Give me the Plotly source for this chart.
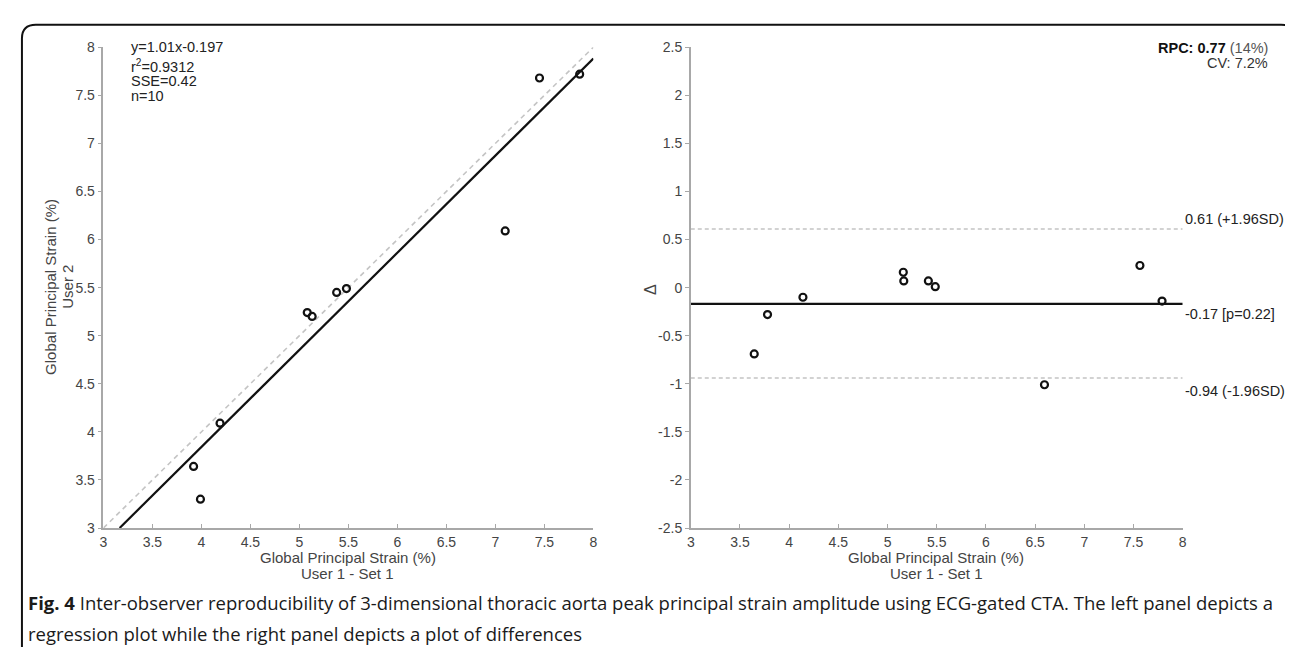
import plotly.graph_objects as go

# ---- data ----
user1 = [3.92, 3.99, 4.19, 5.08, 5.13, 5.38, 5.48, 7.10, 7.45, 7.86]
user2 = [3.64, 3.30, 4.09, 5.24, 5.20, 5.45, 5.49, 6.09, 7.68, 7.72]
slope = 1.01
intercept = -0.197
mean_diff = -0.17
upper_loa = 0.61
lower_loa = -0.94

left_ticks = [3, 3.5, 4, 4.5, 5, 5.5, 6, 6.5, 7, 7.5, 8]
left_ticktext = ["3", "3.5", "4", "4.5", "5", "5.5", "6", "6.5", "7", "7.5", "8"]
right_yticks = [-2.5, -2, -1.5, -1, -0.5, 0, 0.5, 1, 1.5, 2, 2.5]
right_yticktext = ["-2.5", "-2", "-1.5", "-1", "-0.5", "0", "0.5", "1", "1.5", "2", "2.5"]

stats_lines = ["y=1.01x-0.197", "r<sup>2</sup>=0.9312", "SSE=0.42", "n=10"]
loa_labels = ["0.61 (+1.96SD)", "-0.17 [p=0.22]", "-0.94 (-1.96SD)"]

means = [(a + b) / 2 for a, b in zip(user1, user2)]
diffs = [b - a for a, b in zip(user1, user2)]

W, H = 1293, 647
def px(x):
    return x / W
def py(y):
    return 1 - y / H

FONT = "Liberation Sans, Arial, Helvetica, sans-serif"
TICKC = "#444444"
AXC = "#a8a8a8"

fig = go.Figure()

# left panel
xline = [(3 - intercept) / slope, 8]
fig.add_trace(go.Scatter(x=[3, 8], y=[3, 8], mode="lines",
                         line=dict(color="#c4c4c4", width=1.6, dash="5px,4px"),
                         xaxis="x", yaxis="y", showlegend=False, hoverinfo="skip"))
fig.add_trace(go.Scatter(x=xline, y=[slope * v + intercept for v in xline], mode="lines",
                         line=dict(color="#111111", width=2.2),
                         xaxis="x", yaxis="y", showlegend=False, hoverinfo="skip"))
fig.add_trace(go.Scatter(x=user1, y=user2, mode="markers",
                         marker=dict(symbol="circle-open", size=7, color="#111111",
                                     line=dict(width=2.2, color="#111111")),
                         xaxis="x", yaxis="y", showlegend=False))

# right panel
for v in [upper_loa, lower_loa]:
    fig.add_trace(go.Scatter(x=[3, 8], y=[v, v], mode="lines",
                             line=dict(color="#c4c4c4", width=1.6, dash="4px,3px"),
                             xaxis="x2", yaxis="y2", showlegend=False, hoverinfo="skip"))
fig.add_trace(go.Scatter(x=[3, 8], y=[mean_diff, mean_diff], mode="lines",
                         line=dict(color="#111111", width=2.2),
                         xaxis="x2", yaxis="y2", showlegend=False, hoverinfo="skip"))
fig.add_trace(go.Scatter(x=means, y=diffs, mode="markers",
                         marker=dict(symbol="circle-open", size=7, color="#111111",
                                     line=dict(width=2.2, color="#111111")),
                         xaxis="x2", yaxis="y2", showlegend=False))

axis_common = dict(showgrid=False, zeroline=False, showline=True, linecolor=AXC,
                   linewidth=1.5, tickcolor=AXC, tickwidth=1.2, ticklen=4,
                   tickfont=dict(family=FONT, size=14, color=TICKC), mirror=False)

ydom = [py(525), py(32)]
fig.update_layout(
    width=W, height=H, margin=dict(l=0, r=0, t=0, b=0),
    paper_bgcolor="white", plot_bgcolor="white", showlegend=False,
    xaxis=dict(domain=[px(92), px(585)], range=[3, 8], tickvals=left_ticks,
               ticktext=left_ticktext, ticks="inside", anchor="y", **axis_common),
    yaxis=dict(domain=ydom, range=[3, 8], tickvals=left_ticks,
               ticktext=left_ticktext, ticks="outside", anchor="x", **axis_common),
    xaxis2=dict(domain=[px(683), px(1178)], range=[3, 8], tickvals=left_ticks,
                ticktext=left_ticktext, ticks="inside", anchor="y2", **axis_common),
    yaxis2=dict(domain=ydom, range=[-2.5, 2.5], tickvals=right_yticks,
                ticktext=right_yticktext, ticks="outside", anchor="x2", **axis_common),
)

ann = []
def text(x, y, s, size=14.5, color=TICKC, xanchor="center", yanchor="middle", angle=0, fam=FONT):
    ann.append(dict(x=px(x), y=py(y), xref="paper", yref="paper", text=s, showarrow=False,
                    xanchor=xanchor, yanchor=yanchor, textangle=angle,
                    font=dict(family=fam, size=size, color=color)))

# axis titles
text(338, 555, "Global Principal Strain (%)", size=15)
text(338, 572, "User 1 - Set 1", size=15)
text(930, 555, "Global Principal Strain (%)", size=15)
text(930, 572, "User 1 - Set 1", size=15)
text(38, 278, "Global Principal Strain (%)", angle=-90, size=15)
text(55, 278, "User 2", angle=-90, size=15)
text(642, 281, "Δ", angle=-90, size=16)

# stats box left
ys = [32, 51, 67, 82]
for s, yy in zip(stats_lines, ys):
    text(118, yy, s, color="#222222", xanchor="left")

# RPC
text(1266, 33, "<b>RPC: 0.77</b> <span style='color:#555555'>(14%)</span>", color="#111111", xanchor="right")
text(1266, 48, "CV: 7.2%", color="#333333", xanchor="right")

# LoA labels
for s, yy in zip(loa_labels, [208, 306, 385]):
    text(1178, yy, s, color="#222222", xanchor="left")

# caption
CAP = "Open Sans, Noto Sans, sans-serif"
text(14, 601, "<b>Fig. 4</b> Inter-observer reproducibility of 3-dimensional thoracic aorta peak principal strain amplitude using ECG-gated CTA. The left panel depicts a",
     size=18.5, color="#1a1a1a", xanchor="left", fam=CAP)
text(14, 633, "regression plot while the right panel depicts a plot of differences",
     size=18.5, color="#1a1a1a", xanchor="left", fam=CAP)

fig.update_layout(annotations=ann)

# rounded frame
x0, x1, y0, y1 = px(10), px(1291), py(9), py(700)
rx, ry = 14 / W, 14 / H
path = (f"M {x0+rx},{y0} L {x1-rx},{y0} Q {x1},{y0} {x1},{y0-ry} "
        f"L {x1},{y1} L {x0},{y1} L {x0},{y0-ry} Q {x0},{y0} {x0+rx},{y0} Z")
fig.add_shape(type="path", path=path, xref="paper", yref="paper",
              line=dict(color="#111111", width=2), fillcolor="rgba(0,0,0,0)")

fig.write_html("out.html")
